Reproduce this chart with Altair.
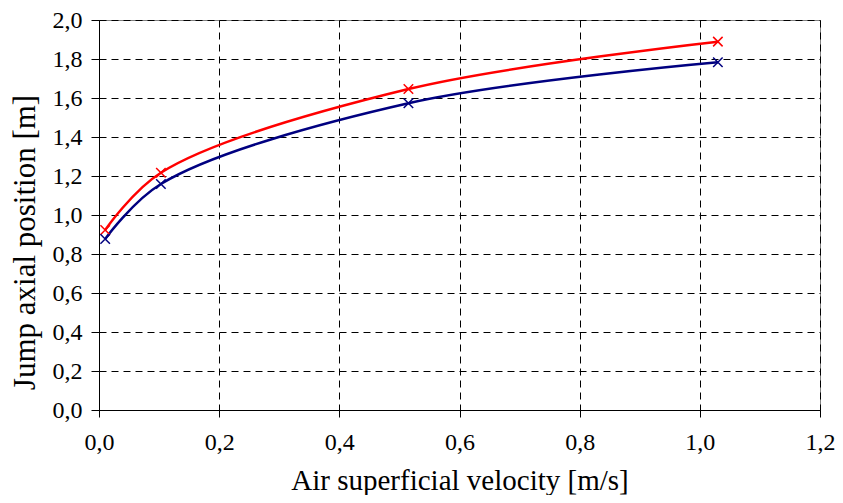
import altair as alt
import pandas as pd

velocity = [0.0103, 0.103, 0.515, 1.03]
series_red = [0.923, 1.217, 1.646, 1.889]
series_blue = [0.877, 1.159, 1.573, 1.783]
series_names = ["A", "B"]
series_colors = ["#FF0000", "#000080"]
x_ticks = [0, 0.2, 0.4, 0.6, 0.8, 1.0, 1.2]
y_ticks = [0, 0.2, 0.4, 0.6, 0.8, 1.0, 1.2, 1.4, 1.6, 1.8, 2.0]

rows = []
for name, vals in zip(series_names, [series_red, series_blue]):
    for v, y in zip(velocity, vals):
        rows.append({"series": name, "velocity": v, "position": y})
df = pd.DataFrame(rows)

label_expr = "replace(format(datum.value, '.1f'), '.', ',')"
font = "Liberation Serif"

x_enc = alt.X(
    "velocity:Q",
    scale=alt.Scale(domain=[0, 1.2], nice=False),
    axis=alt.Axis(
        values=x_ticks,
        labelExpr=label_expr,
        title="Air superficial velocity [m/s]",
        tickSize=7,
        labelPadding=13,
        titlePadding=12,
        titleFontSize=29,
    ),
)
y_enc = alt.Y(
    "position:Q",
    scale=alt.Scale(domain=[0, 2.0], nice=False),
    axis=alt.Axis(
        values=y_ticks,
        labelExpr=label_expr,
        title="Jump axial position [m]",
        tickSize=8,
        labelPadding=9,
        titlePadding=11,
        titleFontSize=31,
        titleY=222,
    ),
)
color_enc = alt.Color(
    "series:N",
    scale=alt.Scale(domain=series_names, range=series_colors),
    legend=None,
)

base = alt.Chart(df).encode(x=x_enc, y=y_enc, color=color_enc)

lines = base.mark_line(interpolate="catmull-rom", strokeWidth=2.5).encode(
    detail="series:N"
)
points = base.mark_point(
    shape="M-1,-1L1,1M-1,1L1,-1", size=90, filled=False, strokeWidth=1.5, opacity=1
)

chart = (
    alt.layer(lines, points)
    .properties(
        width=721,
        height=390,
        autosize=alt.AutoSizeParams(type="none"),
        padding={"left": 91, "top": 12, "right": 15, "bottom": 85},
    )
    .configure_view(stroke="#808080", strokeWidth=1)
    .configure_axis(
        grid=True,
        gridColor="black",
        gridDash=[7, 5],
        gridWidth=1,
        gridOpacity=1,
        domainColor="black",
        tickColor="black",
        labelFlush=False,
        labelOverlap=False,
        labelFont=font,
        titleFont=font,
        labelFontSize=24,
        labelColor="black",
        titleColor="black",
        titleFontWeight="normal",
    )
)

chart.save("out.html", embed_options={"renderer": "svg", "actions": False})
